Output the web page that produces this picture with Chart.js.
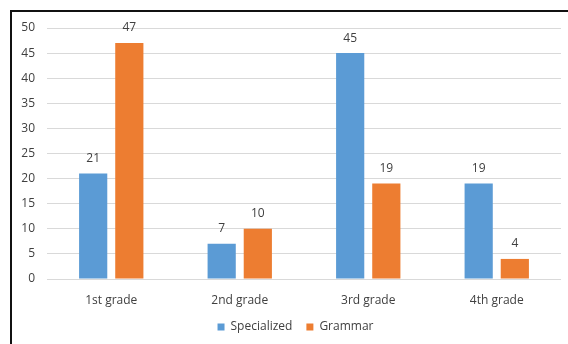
<!DOCTYPE html>
<html>
<head>
<meta charset="utf-8">
<script src="https://cdn.jsdelivr.net/npm/chart.js@4/dist/chart.umd.min.js"></script>
<style>
  html, body { margin: 0; padding: 0; background: #fff; }
  #wrap { position: relative; width: 568px; height: 344px; overflow: hidden; }
  #frame {
    position: absolute; left: 10px; top: 10px; right: -10px; bottom: -10px;
    border-top: 2px solid #111; border-left: 2px solid #111;
  }
  canvas { position: absolute; left: 0; top: 0; }
</style>
</head>
<body>
<div id="wrap">
  <div id="frame"></div>
  <canvas id="chart" width="568" height="344"></canvas>
</div>
<script>
// grades and counts per school type
const grades = ["1st grade", "2nd grade", "3rd grade", "4th grade"];
const specialized = [21, 7, 45, 19];
const grammar = [47, 10, 19, 4];
const yTicks = [0, 5, 10, 15, 20, 25, 30, 35, 40, 45, 50];

const textColor = "#404040";
const fontFamily = "'Open Sans', 'Liberation Sans', sans-serif";

// writes each bar's value just above it
const valueLabels = {
    id: "valueLabels",
    afterDatasetsDraw(chart) {
        const ctx = chart.ctx;
        ctx.save();
        ctx.font = "12px " + fontFamily;
        ctx.fillStyle = textColor;
        ctx.textAlign = "center";
        ctx.textBaseline = "middle";
        chart.data.datasets.forEach((ds, i) => {
            chart.getDatasetMeta(i).data.forEach((bar, j) => {
                ctx.fillText(String(ds.data[j]), bar.x, bar.y - 15);
            });
        });
        ctx.restore();
    }
};

// the legend sits a bit right of the canvas centre
const legendShift = {
    id: "legendShift",
    afterLayout(chart) {
        chart.legend.left += 15;
        chart.legend.right += 15;
    }
};

const chart = new Chart(document.getElementById("chart"), {
    type: "bar",
    data: {
        labels: grades,
        datasets: [
            { label: "Specialized", data: specialized, backgroundColor: "#5B9BD5" },
            { label: "Grammar", data: grammar, backgroundColor: "#ED7D31" }
        ]
    },
    options: {
        responsive: false,
        animation: false,
        events: [],
        categoryPercentage: 0.5625,
        barPercentage: 0.78,
        layout: { padding: { left: 0, right: 7, top: 28, bottom: 1 } },
        scales: {
            x: {
                afterFit(scale) { scale.height = 28; },
                grid: { display: false },
                border: { display: false },
                ticks: { color: textColor, font: { family: fontFamily, size: 12 }, padding: 6 }
            },
            y: {
                min: 0,
                max: 50,
                afterBuildTicks(scale) {
                    scale.ticks = yTicks.map(v => ({ value: v }));
                },
                afterFit(scale) { scale.width = 47; },
                grid: { color: "#D9D9D9", lineWidth: 1, drawTicks: false },
                border: { display: false },
                ticks: { color: textColor, font: { family: fontFamily, size: 12 }, padding: 12 }
            }
        },
        plugins: {
            tooltip: { enabled: false },
            legend: {
                position: "bottom",
                labels: {
                    color: textColor,
                    font: { family: fontFamily, size: 12 },
                    boxWidth: 7,
                    boxHeight: 7,
                    padding: 14
                }
            }
        }
    },
    plugins: [valueLabels, legendShift]
});
</script>
</body>
</html>
